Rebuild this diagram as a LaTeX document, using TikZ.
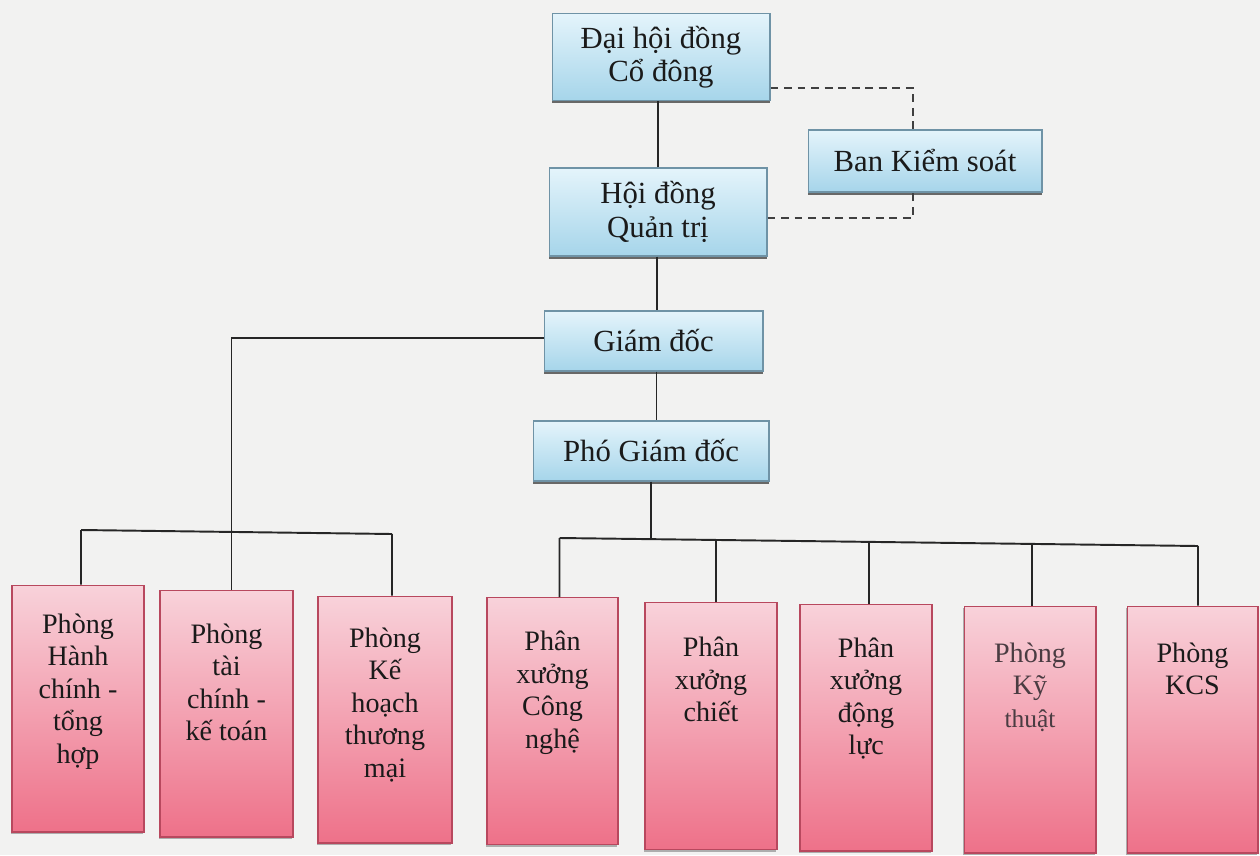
\documentclass[tikz,border=0pt]{standalone}
\usepackage{fontspec}
\setmainfont{Liberation Serif}
\usetikzlibrary{shadows,calc}
\definecolor{bg}{HTML}{F2F2F1}
\definecolor{bluetop}{HTML}{E4F4FB}
\definecolor{bluebot}{HTML}{A6D5EA}
\definecolor{blueedge}{HTML}{6F93A6}
\definecolor{pinktop}{HTML}{F8D2DA}
\definecolor{pinkbot}{HTML}{EE7189}
\definecolor{pinkedge}{HTML}{B8485E}
\definecolor{ink}{HTML}{1A1A1A}
\definecolor{inklight}{HTML}{4A3C42}
\begin{document}
\begin{tikzpicture}[x=0.02cm,y=-0.02cm,
 bluebox/.style={draw=blueedge, line width=0.6pt, top color=bluetop, bottom color=bluebot, align=center, text=ink,
   font=\fontsize{17.5}{19}\selectfont, inner sep=0pt,
   drop shadow={shadow xshift=0pt, shadow yshift=-1.6pt, fill=black!65, opacity=0.9}},
 pinkbox/.style={draw=pinkedge, line width=0.6pt, top color=pinktop, bottom color=pinkbot,
   minimum width=2.64cm, minimum height=4.94cm, inner sep=0pt,
   drop shadow={shadow xshift=-0.8pt, shadow yshift=-1.2pt, fill=black!50, opacity=0.6}},
 pinktext/.style={anchor=north, align=center, text=ink, font=\fontsize{16}{18.5}\selectfont, inner sep=0pt},
 link/.style={draw=black!85, line width=1.1pt},
 dlink/.style={draw=black!75, line width=1pt, dash pattern=on 4.5pt off 3.2pt}]

\fill[bg] (0,0) rectangle (1260,855);
\useasboundingbox (0,0) rectangle (1260,855);

% top (blue) boxes
\node[bluebox, minimum width=4.36cm, minimum height=1.74cm] (dh) at (661,57) {Đại hội đồng\\Cổ đông};
\node[bluebox, minimum width=4.36cm, minimum height=1.76cm] (hd) at (658,212) {Hội đồng\\Quản trị};
\node[bluebox, minimum width=4.68cm, minimum height=1.24cm] (bks) at (925,161) {Ban Kiểm soát};
\node[bluebox, minimum width=4.38cm, minimum height=1.2cm] (gd) at (653.5,341) {Giám đốc};
\node[bluebox, minimum width=4.72cm, minimum height=1.2cm] (pgd) at (651,451) {Phó Giám đốc};

% bottom (pink) boxes
\node[pinkbox] (b1) at (78,708.5) {};
\node[pinkbox, minimum width=2.66cm] (b2) at (226.5,713.5) {};
\node[pinkbox, minimum width=2.68cm] (b3) at (385,719.5) {};
\node[pinkbox, minimum width=2.62cm] (b4) at (552.5,721) {};
\node[pinkbox] (b5) at (711,726) {};
\node[pinkbox] (b6) at (866,727.5) {};
\node[pinkbox] (b7) at (1030,729.5) {};
\node[pinkbox, minimum width=2.62cm] (b8) at (1192.5,729.5) {};

\node[pinktext] (t1) at ([yshift=-0.58cm]b1.north) {Phòng\\Hành\\chính -\\tổng\\hợp};
\node[pinktext] (t2) at ([yshift=-0.68cm]b2.north) {Phòng\\tài\\chính -\\kế toán};
\node[pinktext] (t3) at ([yshift=-0.64cm]b3.north) {Phòng\\Kế\\hoạch\\thương\\mại};
\node[pinktext] (t4) at ([yshift=-0.68cm]b4.north) {Phân\\xưởng\\Công\\nghệ};
\node[pinktext] (t5) at ([yshift=-0.7cm]b5.north) {Phân\\xưởng\\chiết};
\node[pinktext] (t6) at ([yshift=-0.68cm]b6.north) {Phân\\xưởng\\động\\lực};
\node[pinktext, text=inklight] (t7) at ([yshift=-0.74cm]b7.north) {Phòng\\Kỹ\\{\fontsize{14.5}{18.5}\selectfont thuật}};
\node[pinktext] (t8) at ([yshift=-0.74cm]b8.north) {Phòng\\KCS};

% main spine (vertical)
\draw[link] (hd.north) -- (hd.north |- dh.south);
\draw[link] ([xshift=-0.02cm]hd.south) -- ([xshift=-0.02cm]hd.south |- gd.north);
\draw[link] ([xshift=0.06cm]gd.south) -- ([xshift=0.06cm]gd.south |- pgd.north);

% dashed links to Ban Kiem soat
\draw[dlink] ([yshift=-0.62cm]dh.east) -| ([xshift=-0.24cm]bks.north);
\draw[dlink] ([yshift=-0.12cm]hd.east) -| ([xshift=-0.24cm]bks.south);

% left group
\coordinate (lb1) at (81,530);
\coordinate (lb3) at (392,534);
\draw[link] (lb1) -- (lb3);
\draw[link] ([xshift=0.06cm]b1.north) -- (lb1);
\draw[link] (lb3) -- ([xshift=0.14cm]b3.north);
\draw[link] ([yshift=0.06cm]gd.west) -| ([xshift=0.1cm]b2.north);

% right group
\coordinate (rb4) at (559.5,538);
\coordinate (rb8) at (1198,546);
\coordinate (rbm) at (651,539.2);
\draw[link] (rb4) -- (rb8);
\draw[link] (pgd.south) -- (rbm);
\draw[link] (rb4) -- ([xshift=0.14cm]b4.north);
\draw[link] ([xshift=0.1cm]b5.north) -- ++(0,-62);
\draw[link] ([xshift=0.06cm]b6.north) -- ++(0,-62.1);
\draw[link] ([xshift=0.04cm]b7.north) -- ++(0,-62.1);
\draw[link] ([xshift=0.11cm]b8.north) -- (rb8);
\end{tikzpicture}
\end{document}
